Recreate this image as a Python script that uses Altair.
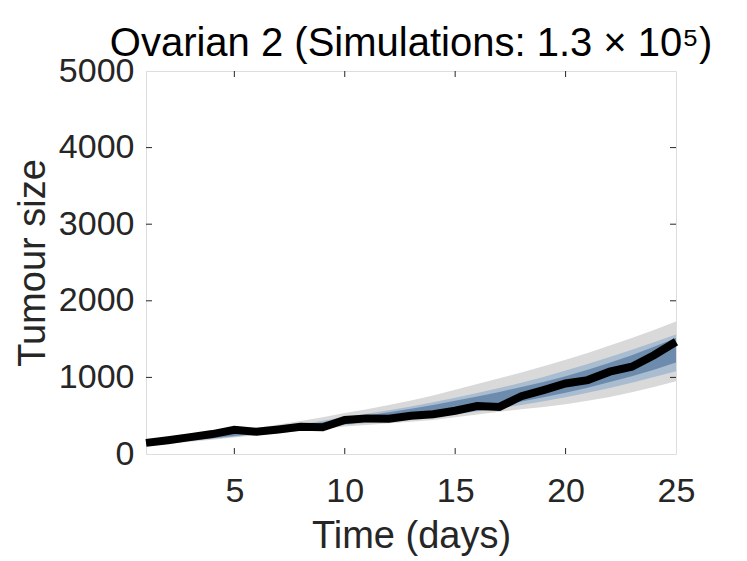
import altair as alt
import pandas as pd

days = list(range(1, 26))
tumour = [145, 180, 220, 260, 315, 290, 320, 355, 350, 445, 465, 460, 500,
          520, 565, 625, 615, 755, 835, 920, 965, 1075, 1140, 1290, 1465]
grey_lo = [115, 135, 160, 185, 215, 245, 275, 305, 330, 360, 380, 400, 420,
           445, 480, 515, 550, 585, 615, 650, 695, 745, 805, 875, 950]
grey_hi = [165, 190, 220, 255, 300, 340, 385, 430, 480, 535, 585, 640, 700,
           765, 840, 915, 990, 1065, 1145, 1230, 1320, 1415, 1515, 1620, 1730]
light_lo = [125, 145, 170, 195, 225, 255, 285, 315, 345, 380, 405, 430, 455,
            485, 520, 555, 595, 640, 690, 740, 800, 860, 930, 1005, 1080]
light_hi = [155, 180, 205, 240, 275, 310, 350, 390, 435, 480, 525, 570, 620,
            675, 735, 795, 860, 930, 1005, 1090, 1175, 1265, 1360, 1460, 1560]
dark_lo = [130, 150, 175, 205, 235, 265, 295, 325, 355, 390, 420, 450, 480,
           515, 550, 590, 635, 685, 740, 800, 865, 940, 1015, 1100, 1195]
dark_hi = [150, 175, 200, 230, 265, 300, 335, 375, 415, 460, 500, 545, 590,
           640, 695, 750, 810, 875, 940, 1015, 1100, 1190, 1290, 1400, 1515]

x_ticks = [5, 10, 15, 20, 25]
y_ticks = [0, 1000, 2000, 3000, 4000, 5000]

df = pd.DataFrame({
    "day": days, "tumour": tumour,
    "grey_lo": grey_lo, "grey_hi": grey_hi,
    "light_lo": light_lo, "light_hi": light_hi,
    "dark_lo": dark_lo, "dark_hi": dark_hi,
})

FONT = "Liberation Sans"
AX = "#262626"
xscale = alt.Scale(domain=[1, 25], nice=False, zero=False)
yscale = alt.Scale(domain=[0, 5000], nice=False)
xaxis = alt.Axis(values=x_ticks, title="Time (days)", grid=False, ticks=False,
                 domain=False, format="d", labelFont=FONT, labelFontSize=34,
                 labelColor=AX, labelPadding=20, titleFont=FONT,
                 titleFontSize=38, titleFontWeight="normal", titleColor=AX,
                 titlePadding=9, labelFlush=False)
yaxis = alt.Axis(values=y_ticks, title="Tumour size", grid=False, ticks=False,
                 domain=False, format="d", labelFont=FONT, labelFontSize=34,
                 labelColor=AX, labelPadding=12, titleFont=FONT,
                 titleFontSize=38, titleFontWeight="normal", titleColor=AX,
                 titlePadding=6, labelFlush=False)

X = alt.X("day:Q", scale=xscale, axis=xaxis)


def band(lo, hi, color):
    return alt.Chart(df).mark_area(color=color, opacity=1).encode(
        x=X,
        y=alt.Y(f"{lo}:Q", scale=yscale, axis=yaxis),
        y2=f"{hi}:Q",
    )


grey = band("grey_lo", "grey_hi", "#d9d9d9")
light = band("light_lo", "light_hi", "#a9bcd0")
dark = band("dark_lo", "dark_hi", "#6d8cad")
line = alt.Chart(df).mark_line(color="black", strokeWidth=8,
                               strokeJoin="miter").encode(
    x=X, y=alt.Y("tumour:Q", scale=yscale, axis=yaxis))

xt = pd.DataFrame({"t": [5, 10, 15, 20]})
yt = pd.DataFrame({"t": [1000, 2000, 3000, 4000]})
tx = alt.X("t:Q", scale=xscale, axis=xaxis)
ty = alt.Y("t:Q", scale=yscale, axis=yaxis)
tick_b = alt.Chart(xt).mark_rule(color=AX, strokeWidth=1).encode(
    x=tx, y=alt.value(383), y2=alt.value(377))
tick_t = alt.Chart(xt).mark_rule(color=AX, strokeWidth=1).encode(
    x=tx, y=alt.value(0), y2=alt.value(6))
tick_l = alt.Chart(yt).mark_rule(color=AX, strokeWidth=1).encode(
    y=ty, x=alt.value(0), x2=alt.value(6))
tick_r = alt.Chart(yt).mark_rule(color=AX, strokeWidth=1).encode(
    y=ty, x=alt.value(530), x2=alt.value(524))

chart = alt.layer(grey, light, dark, line, tick_b, tick_t, tick_l, tick_r).properties(
    width=530, height=383,
    autosize=alt.AutoSizeParams(type="none"),
    padding={"left": 138, "top": 63, "right": 55, "bottom": 106},
    title=alt.TitleParams("Ovarian 2 (Simulations: 1.3 × 10⁵)", font=FONT,
                          fontSize=40, fontWeight="normal", color="black",
                          anchor="middle", offset=-10),
).configure_view(stroke=AX, strokeWidth=1).configure(background="white")

chart.save("out.html", embed_options={"renderer": "svg", "actions": False})
